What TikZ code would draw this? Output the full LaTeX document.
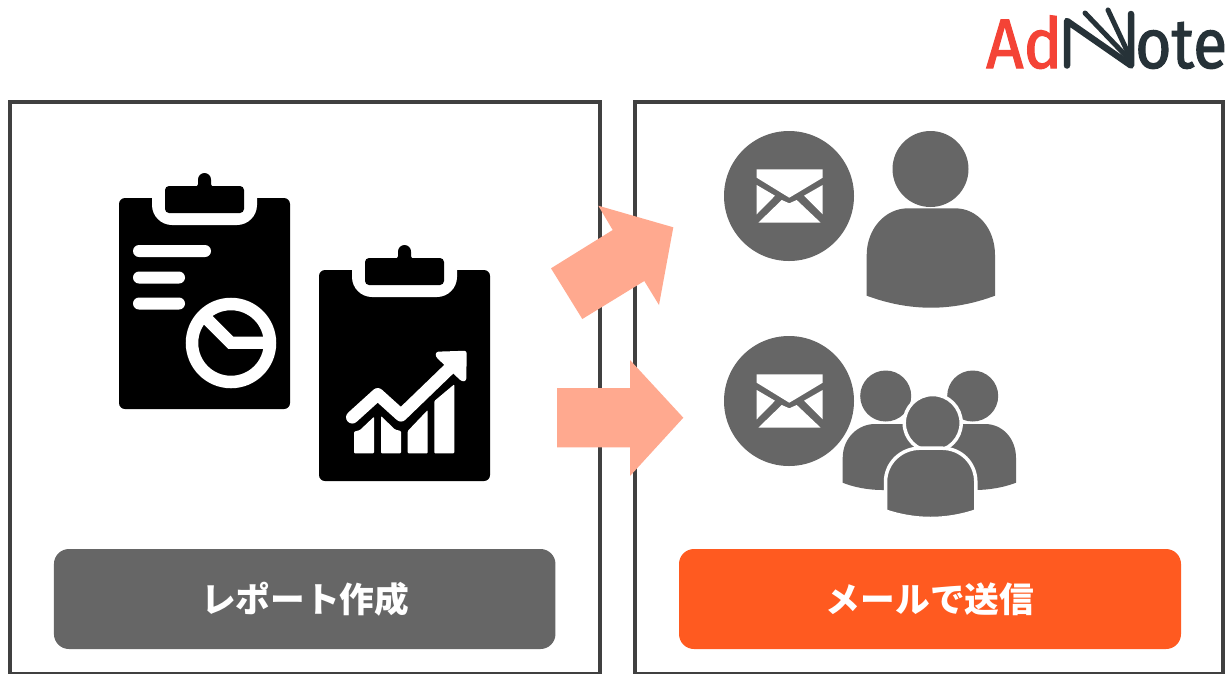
\documentclass[tikz,border=0pt]{standalone}
\usepackage{fontspec}
\newfontfamily\cjkfont{Noto Sans CJK JP}
\newfontfamily\logofont[FakeBold=1.6,FakeStretch=0.93]{Fira Sans}
\newfontfamily\logofontb[FakeBold=1.6,FakeStretch=0.89]{Fira Sans}
\definecolor{frameC}{HTML}{404040}
\definecolor{grayC}{HTML}{666666}
\definecolor{orangeC}{HTML}{FF5A20}
\definecolor{arrowC}{HTML}{FFA98F}
\definecolor{logoR}{HTML}{F44336}
\definecolor{logoD}{HTML}{263238}
\tikzset{
  panelbox/.style={draw=frameC,line width=4pt},
  btn/.style={rounded corners=15pt,minimum height=100pt,inner sep=0pt,text=white,font=\cjkfont\bfseries\fontsize{34.7}{40}\selectfont},
  flowarrow/.style={fill=arrowC,draw=none},
  whiteband/.style={draw=white,line cap=round,line join=round},
  pics/clipboard/.style={code={
    \fill[black,rounded corners=6pt] (119,198) rectangle (290,409);
    \fill[white] (152,190) -- (152,205) .. controls (152,216) and (161,225) .. (172,225) -- (237,225) .. controls (248,225) and (257,216) .. (257,205) -- (257,190) -- cycle;
    \fill[black,rounded corners=4pt] (165,186) rectangle (244,213);
    \fill[black] (204.5,179.5) circle[radius=6.5];
    \fill[black] (195,187) .. controls (198.5,186) and (198.5,183) .. (198,180) -- (211,180) .. controls (210.5,183) and (210.5,186) .. (214,187) -- cycle;
  }},
  pics/envelope/.style={code={
    \fill[grayC] (0,0) circle[radius=65];
    \fill[white] (-32.3,-26.7) -- (33.7,-26.7) -- (33.7,-18.3) -- (0.3,1.7) -- (-32.3,-18.3) -- cycle;
    \fill[white] (-32.3,-11) -- (-14,-0.3) -- (-32.3,18.3) -- cycle;
    \fill[white] (33.7,-11) -- (15,-0.3) -- (33.7,18.3) -- cycle;
    \fill[white] (-30.7,26.7) -- (-7.3,4) -- (0.3,7.3) -- (7.7,4) -- (31.7,26.7) -- cycle;
  }}
}
\begin{document}
\begin{tikzpicture}[x=1pt,y=-1pt]
\useasboundingbox (0,0) rectangle (1226,673);
\fill[white] (0,0) rectangle (1226,673);
% panels
\draw[panelbox] (9.5,101.7) rectangle (600,674.2);
\draw[panelbox] (634.5,101.7) rectangle (1223,674.2);
% logo
\node[anchor=base west,inner sep=0pt,text=logoR,font=\logofont\fontsize{70}{70}\selectfont] (logoA) at (986,68) {Ad};
\draw[logoD,line width=6.5pt,line cap=round,line join=round] (1067,65.5) -- (1067,21) -- (1131,65.5) -- (1131,14);
\draw[logoD,line width=5pt,line cap=round] (1085,13) -- (1128,58);
\draw[logoD,line width=5pt,line cap=round] (1108,10) -- (1129,55);
\node[anchor=base west,inner sep=0pt,text=logoD,font=\logofontb\fontsize{70}{70}\selectfont] (logoB) at (1135,68) {ote};
% clipboard 1
\pic {clipboard};
\fill[white,rounded corners=6pt] (133,245) rectangle (211,257);
\fill[white,rounded corners=6pt] (133,271.5) rectangle (185,283.5);
\fill[white,rounded corners=6pt] (133,297.5) rectangle (185,309.5);
\fill[black] (231,343) circle[radius=45];
\draw[white,line width=12.5pt] (231,343) circle[radius=39];
\begin{scope}
\clip (231,343) circle[radius=39];
\draw[white,line width=12.3pt,line join=miter] (206,318) -- (230.7,342.7) -- (275,342.7);
\end{scope}
% clipboard 2
\begin{scope}[shift={(200,72)}]
\pic {clipboard};
\end{scope}
\fill[white,rounded corners=1pt] (354,453.3) -- (354,431.7) -- (360,430) -- (374,416.7) -- (374,453.3) -- cycle;
\fill[white,rounded corners=1pt] (381,453.3) -- (381,416) -- (395,429.5) -- (401,431) -- (401,453.3) -- cycle;
\fill[white,rounded corners=1pt] (407.7,453.3) -- (407.7,431) -- (427.7,410) -- (427.7,453.3) -- cycle;
\fill[white,rounded corners=1pt] (434.3,453.3) -- (434.3,401) -- (454.3,384.3) -- (454.3,453.3) -- cycle;
\draw[whiteband,line width=12.5pt] (352.3,417.3) -- (377.7,394.3) -- (401,415.3) -- (450,368);
\fill[white,rounded corners=2.5pt] (436,351.7) -- (466.7,350.7) -- (466.3,381) -- (461.7,381.5) -- (435.5,356.5) -- cycle;
% arrows
\fill[flowarrow] (551,268.3) -- (612.7,230) -- (598.3,205.7) -- (673.3,227.3) -- (659,305) -- (644.3,281) -- (582.3,319) -- cycle;
\fill[flowarrow] (557,388) -- (630,388) -- (630,360) -- (683.3,417.7) -- (630,476) -- (630,447.3) -- (557,447.3) -- cycle;
% envelopes
\pic at (789,196) {envelope};
\pic at (789,401) {envelope};
% single person
\fill[grayC] (930.5,169) circle[radius=38];
\fill[grayC] (866.7,295.7) -- (866.7,255) .. controls (866.7,229) and (885,208.3) .. (908,208.3) -- (955,208.3) .. controls (978,208.3) and (995,229) .. (995,255) -- (995,295.7) .. controls (952,311.7) and (910,311.7) .. (866.7,295.7) -- cycle;
% group
\fill[grayC] (885.7,396) circle[radius=25.5];
\fill[grayC] (972.7,396) circle[radius=25.5];
\fill[grayC] (842.7,482.7) -- (842.7,458) .. controls (842.7,438) and (858,424) .. (875,424) -- (985,424) .. controls (1002,424) and (1016,438) .. (1016,458) -- (1016,482.7) .. controls (1005,487) and (990,490) .. (975,490) -- (882,490) .. controls (868,490) and (853,487) .. (842.7,482.7) -- cycle;
\fill[grayC,draw=white,line width=3.5pt] (932.7,423) circle[radius=28.5];
\fill[grayC,draw=white,line width=3.5pt] (885.5,511) -- (885.5,482) .. controls (885.5,463) and (901,448.2) .. (920,448.2) -- (942,448.2) .. controls (961,448.2) and (975.8,463) .. (975.8,482) -- (975.8,511) .. controls (946,521) and (915,521) .. (885.5,511) -- cycle;
% buttons
\node[btn,fill=grayC,minimum width=501.5pt] (report) at (304.7,599) {\raisebox{-3.5pt}{\hspace{1pt}レポート作成}};
\node[btn,fill=orangeC,minimum width=502pt] (mail) at (930,599) {\raisebox{-3.5pt}{メールで送信}};
\end{tikzpicture}
\end{document}
